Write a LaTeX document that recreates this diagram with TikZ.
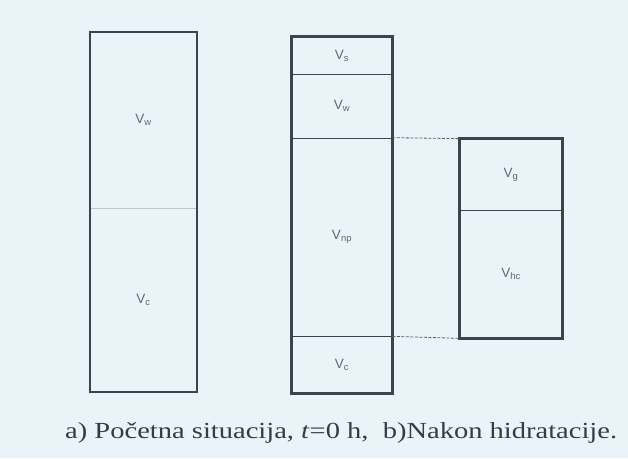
\documentclass[tikz,border=0pt]{standalone}
\usepackage{fontspec}
\setmainfont{Liberation Serif}
\setsansfont{Liberation Sans}
\usepackage{tikz}
\usetikzlibrary{positioning}
\definecolor{paper}{RGB}{234,243,248}
\definecolor{linecol}{RGB}{58,68,78}
\definecolor{thincol}{RGB}{150,158,165}
\tikzset{
    cell/.style={
        draw=linecol,
        line width=0.7pt,
        rectangle,
        inner sep=0,
        text=linecol!80,
        font=\sffamily\fontsize{13.5}{15}\selectfont,
    },
    faint cell/.style={
        cell,
        draw=thincol!60,
        line width=0.4pt,
    },
    outline/.style={
        draw=linecol,
        line width=#1,
    },
    level link/.style={
        draw=linecol!85,
        dash pattern=on 3pt off 1.5pt,
        line width=0.8pt,
    },
}
\newcommand\vol[1]{V\textsubscript{#1}}

\begin{document}
\begin{tikzpicture}[x=1pt,y=-1pt]

    \fill[paper] (0,0) rectangle (628,458);
    \useasboundingbox (0,0) rectangle (628,458);

    % a) initial state
    \node[faint cell, minimum width=107pt, minimum height=176pt] (aw) at (143.5,120) {\vol{w}};
    \node[faint cell, minimum width=107pt, minimum height=184pt] (ac) at (143.5,300) {\vol{c}};
    \draw[outline=1.6pt] (aw.north west) rectangle (ac.south east);

    % b) after hydration
    \node[cell, minimum width=100pt, minimum height=37pt] (bs) at (342,55.5) {\vol{s}};
    \node[cell, minimum width=100pt, minimum height=64pt] (bw) at (342,106) {\vol{w}};
    \node[cell, minimum width=100pt, minimum height=198pt] (bnp) at (342,237) {\vol{np}};
    \node[cell, minimum width=100pt, minimum height=57pt] (bc) at (342,364.5) {\vol{c}};
    \draw[outline=3pt] (bs.north west) rectangle (bc.south east);

    \node[cell, minimum width=102pt, minimum height=71pt] (cg) at (511,174.5) {\vol{g}};
    \node[cell, minimum width=102pt, minimum height=128pt] (chc) at (511,274) {\vol{hc}};
    \draw[outline=2.6pt] (cg.north west) rectangle (chc.south east);

    \draw[level link] (bnp.north east) -- (cg.north west);
    \draw[level link] (bnp.south east) -- (chc.south west);

    \node[anchor=base west, inner sep=0, text=linecol!90!black] (caption) at (65,438)
        {\scalebox{1.24}[1]{\fontsize{23}{26}\selectfont a) Početna situacija, \textit{t}=0 h,\ \ b)Nakon hidratacije.}};

\end{tikzpicture}
\end{document}
